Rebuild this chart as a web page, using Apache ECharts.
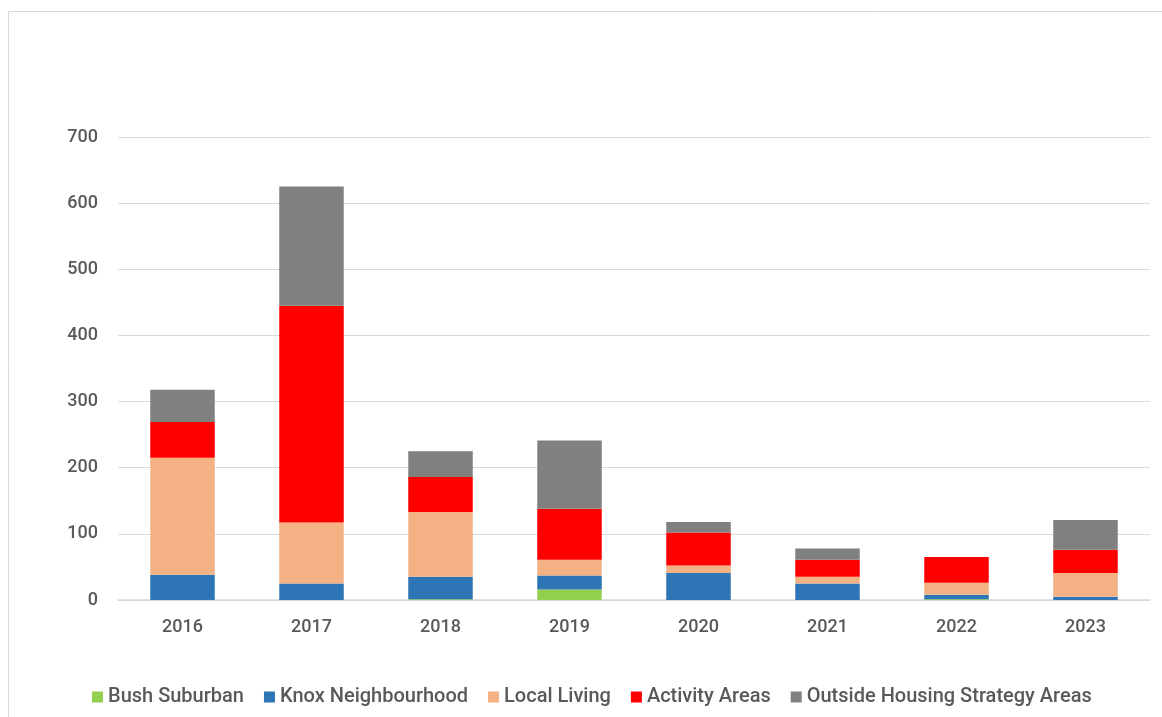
<!DOCTYPE html>
<html>
<head>
<meta charset="utf-8">
<script src="https://cdn.jsdelivr.net/npm/echarts@6/dist/echarts.min.js"></script>
<style>
  html, body { margin: 0; padding: 0; background: #ffffff; }
  #chart { width: 1162px; height: 717px; }
</style>
</head>
<body>
<div id="chart"></div>
<script>
// Dwellings approved per year, by housing strategy area
const years = ['2016', '2017', '2018', '2019', '2020', '2021', '2022', '2023'];
const bushSuburban = [0, 0, 1, 16, 0, 0, 1, 0];
const knoxNeighbourhood = [38, 25, 34, 21, 41, 25, 7, 5];
const localLiving = [177, 92, 98, 24, 11, 10, 18, 36];
const activityAreas = [54, 328, 53, 77, 50, 26, 39, 35];
const outsideAreas = [49, 180, 39, 103, 16, 17, 0, 45];
const yTicks = [0, 100, 200, 300, 400, 500, 600, 700];

const textColor = '#595959';
const fontFamily = 'Roboto, "Liberation Sans", sans-serif';

const seriesDefs = [
  { name: 'Bush Suburban', data: bushSuburban, color: '#92d050' },
  { name: 'Knox Neighbourhood', data: knoxNeighbourhood, color: '#2e75b6' },
  { name: 'Local Living', data: localLiving, color: '#f4b183' },
  { name: 'Activity Areas', data: activityAreas, color: '#ff0000' },
  { name: 'Outside Housing Strategy Areas', data: outsideAreas, color: '#808080' }
];

const chart = echarts.init(document.getElementById('chart'), null, { renderer: 'canvas' });

chart.setOption({
  animation: false,
  backgroundColor: '#ffffff',
  graphic: [{
    type: 'rect',
    shape: { x: 8.5, y: 11.5, width: 1160, height: 720 },
    style: { fill: 'none', stroke: '#d9d9d9', lineWidth: 1 },
    silent: true
  }],
  grid: { left: 118, right: 12, top: 137, bottom: 117, containLabel: false },
  legend: {
    top: 682,
    left: 87,
    itemWidth: 11,
    itemHeight: 11,
    itemGap: 20,
    icon: 'rect',
    textStyle: { color: textColor, fontSize: 20, fontWeight: 500, fontFamily: fontFamily },
    data: seriesDefs.map(s => s.name)
  },
  xAxis: {
    type: 'category',
    data: years,
    axisLine: { lineStyle: { color: '#d9d9d9', width: 1.5 } },
    axisTick: { show: false },
    axisLabel: { color: textColor, fontSize: 18, fontWeight: 500, fontFamily: fontFamily, margin: 18 }
  },
  yAxis: {
    type: 'value',
    min: yTicks[0],
    max: yTicks[yTicks.length - 1],
    interval: yTicks[1] - yTicks[0],
    axisLine: { show: false },
    axisTick: { show: false },
    splitLine: { lineStyle: { color: '#d9d9d9', width: 1 } },
    axisLabel: { color: textColor, fontSize: 18, fontWeight: 500, fontFamily: fontFamily, margin: 20 }
  },
  series: seriesDefs.map(s => ({
    name: s.name,
    type: 'bar',
    stack: 'total',
    barWidth: '50%',
    data: s.data,
    itemStyle: { color: s.color }
  }))
});
</script>
</body>
</html>
